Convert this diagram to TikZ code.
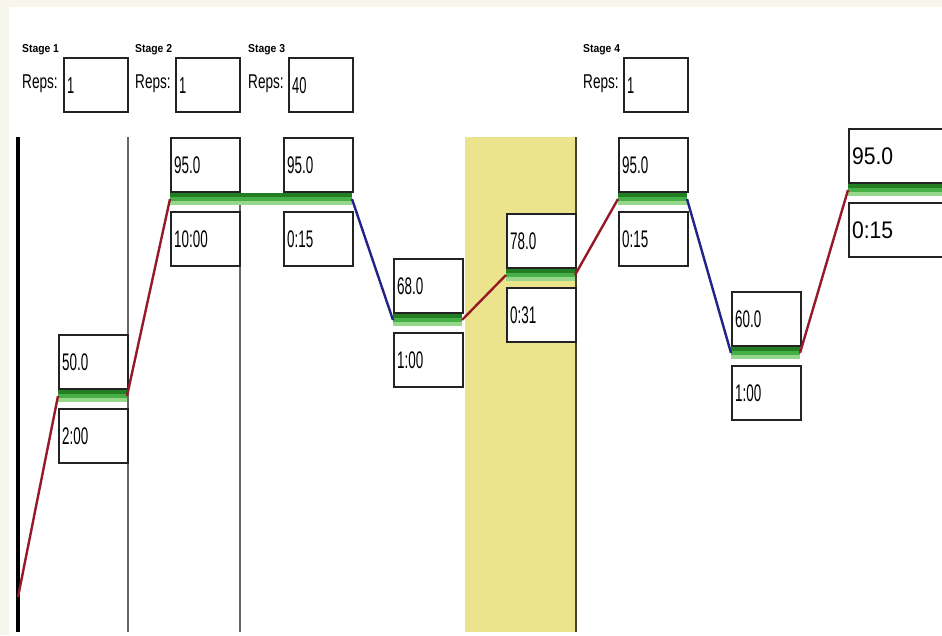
\documentclass[tikz,border=0pt]{standalone}
\usepackage{fontspec}
\setmainfont{Liberation Sans}
\newfontfamily\boxfont[FakeStretch=0.56]{Liberation Sans}
\newfontfamily\wideboxfont[FakeStretch=0.88]{Liberation Sans}
\newfontfamily\repsfont[FakeStretch=0.68]{Liberation Sans}
\newfontfamily\stagefont[FakeStretch=0.9]{Liberation Sans}

\definecolor{rampred}{RGB}{150,25,40}
\definecolor{rampblue}{RGB}{35,35,135}
\definecolor{holdyellow}{RGB}{235,228,140}
\definecolor{holdedge}{RGB}{70,65,40}
\definecolor{gdark}{RGB}{35,125,35}
\definecolor{gmid}{RGB}{70,175,70}
\definecolor{glight}{RGB}{150,215,140}
\definecolor{boxline}{RGB}{35,35,35}
\definecolor{paneltint}{RGB}{247,246,236}

\tikzset{
  valbox/.style={draw=boxline, line width=2.2pt, fill=white, anchor=north west,
    minimum height=54pt, text width=63pt, inner xsep=3pt, inner ysep=0pt,
    align=left, font=\boxfont\fontsize{24}{24}\selectfont},
  widebox/.style={valbox, text width=114pt, font=\wideboxfont\fontsize{24}{24}\selectfont},
  repsbox/.style={valbox, text width=58pt, font=\boxfont\fontsize{23}{23}\selectfont},
  repslabel/.style={anchor=west, inner sep=0pt, font=\repsfont\fontsize{20}{20}\selectfont},
  stagelabel/.style={anchor=base west, inner sep=0pt, font=\stagefont\bfseries\fontsize{11.5}{11.5}\selectfont},
  heatramp/.style={draw=rampred, line width=2.4pt},
  coolramp/.style={draw=rampblue, line width=2.4pt},
  divider/.style={draw=black!60, line width=1.6pt},
}

% three-tone green hold bar between x1 and x2, for a step whose boxes start at top y
\newcommand{\holdbar}[3]{%
  \fill[gdark]  (#1,#3+56)   rectangle (#2,#3+59.5);
  \fill[gmid]   (#1,#3+59.5) rectangle (#2,#3+64);
  \fill[glight] (#1,#3+64)   rectangle (#2,#3+67.5);
}

% one hold step: #1 name, #2 left x, #3 top y, #4 temperature, #5 time
\newcommand{\holdstep}[5]{%
  \holdbar{#2}{#2+69}{#3}
  \coordinate (#1w) at (#2,#3+62);
  \coordinate (#1e) at (#2+69,#3+62);
  \node[valbox] (#1temp) at (#2,#3) {#4};
  \node[valbox] (#1time) at (#2,#3+74) {#5};
}

\begin{document}
\begin{tikzpicture}[x=1pt, y=-1pt]
  \useasboundingbox (0,0) rectangle (942,635);
  \clip (0,0) rectangle (942,635);
  \fill[white] (0,0) rectangle (942,635);
  \fill[paneltint] (0,0) rectangle (942,7);
  \fill[paneltint] (0,0) rectangle (9,635);

  % highlighted step column
  \fill[holdyellow] (465,137) rectangle (576,632);
  \draw[draw=holdedge, line width=1.6pt] (576,137) -- (576,632);

  % stage dividers
  \draw[draw=black, line width=4pt] (18,137) -- (18,632);
  \draw[divider] (128,137) -- (128,632);
  \draw[divider] (240,137) -- (240,632);

  % stage headers
  \node[stagelabel] (stage1) at (22,52) {Stage 1};
  \node[repslabel]  (reps1l) at (22,84) {Reps:};
  \node[repsbox]    (reps1)  at (63,57) {1};

  \node[stagelabel] (stage2) at (135,52) {Stage 2};
  \node[repslabel]  (reps2l) at (135,84) {Reps:};
  \node[repsbox]    (reps2)  at (175,57) {1};

  \node[stagelabel] (stage3) at (248,52) {Stage 3};
  \node[repslabel]  (reps3l) at (248,84) {Reps:};
  \node[repsbox]    (reps3)  at (288,57) {40};

  \node[stagelabel] (stage4) at (583,52) {Stage 4};
  \node[repslabel]  (reps4l) at (583,84) {Reps:};
  \node[repsbox]    (reps4)  at (623,57) {1};

  % hold steps
  \holdstep{s1}{58}{334}{50.0}{2:00}
  \holdstep{s2}{170}{137}{95.0}{10:00}
  \holdstep{s3}{283}{137}{95.0}{0:15}
  \holdstep{s4}{393}{258}{68.0}{1:00}
  \holdstep{s5}{506}{213}{78.0}{0:31}
  \holdstep{s6}{618}{137}{95.0}{0:15}
  \holdstep{s7}{731}{291}{60.0}{1:00}

  % last step runs past the right edge
  \holdbar{848}{968}{128}
  \coordinate (s8w) at (848,190);
  \node[widebox] (s8temp) at (848,128) {95.0};
  \node[widebox] (s8time) at (848,202) {0:15};

  % flat join between steps at the same temperature
  \holdbar{239}{283}{137}

  % ramps between steps
  \coordinate (start) at (18,597);
  \draw[heatramp] (start) -- (s1w);
  \draw[heatramp] (s1e) -- (s2w);
  \draw[coolramp] (s3e) -- (s4w);
  \draw[heatramp] (s4e) -- (s5w);
  \draw[heatramp] (s5e) -- (s6w);
  \draw[coolramp] (s6e) -- (s7w);
  \draw[heatramp] (s7e) -- (s8w);
\end{tikzpicture}
\end{document}
